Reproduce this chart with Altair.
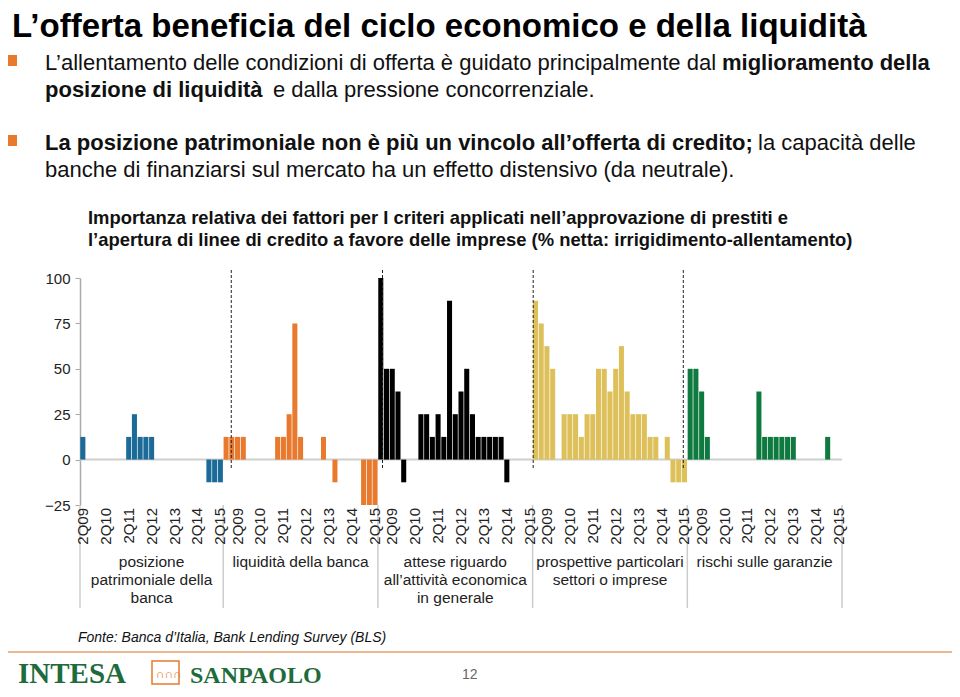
import altair as alt
import pandas as pd

# ---------------- data ----------------
gruppi = [
    "posizione\npatrimoniale della\nbanca",
    "liquidità della banca",
    "attese riguardo\nall’attività economica\nin generale",
    "prospettive particolari\nsettori o imprese",
    "rischi sulle garanzie",
]
colori = ["#1B6A97", "#E8792D", "#000000", "#DDC05A", "#0E7A3F"]
anni = ["2Q09", "2Q10", "2Q11", "2Q12", "2Q13", "2Q14", "2Q15"]

# % netta per trimestre (blu: 2Q09-2Q15; altri: 4Q08-2Q15)
posizione_patrimoniale = [12.5, 0, 0, 0, 0, 0, 0, 0, 12.5, 25, 12.5, 12.5, 12.5,
                          0, 0, 0, 0, 0, 0, 0, 0, 0, -12.5, -12.5, -12.5]
liquidita = [12.5, 12.5, 12.5, 12.5, 0, 0, 0, 0, 0, 12.5, 12.5, 25, 75, 12.5,
             0, 0, 0, 12.5, 0, -12.5, 0, 0, 0, 0, -25, -25, -25]
attese = [100, 50, 50, 37.5, -12.5, 0, 0, 25, 25, 12.5, 25, 12.5, 87.5, 25,
          37.5, 50, 25, 12.5, 12.5, 12.5, 12.5, 12.5, -12.5, 0, 0, 0, 0]
prospettive = [87.5, 75, 62.5, 50, 0, 25, 25, 25, 12.5, 25, 25, 50, 50, 37.5,
               50, 62.5, 37.5, 25, 25, 25, 12.5, 12.5, 0, 12.5, -12.5, -12.5, -12.5]
rischi = [50, 50, 37.5, 12.5, 0, 0, 0, 0, 0, 0, 0, 0, 37.5, 12.5, 12.5, 12.5,
          12.5, 12.5, 12.5, 0, 0, 0, 0, 0, 12.5, 0, 0]
serie = [posizione_patrimoniale, liquidita, attese, prospettive, rischi]
tratteggi = [26.4, 52.8, 79.1, 105.3]

# ---------------- tables ----------------
righe, etichette, confini, centri = [], [], [], []
start = 0
confini.append({"pos": 0})
for nome, valori in zip(gruppi, serie):
    n = len(valori)
    for i, v in enumerate(valori):
        righe.append({"gruppo": nome, "slot": start + i, "valore": v})
    primo = n - 25
    for k, a in enumerate(anni):
        etichette.append({"etichetta": a, "pos": start + primo + 4 * k + 0.5})
    centri.append({"gruppo": nome, "pos": start + n / 2})
    start += n
    confini.append({"pos": start})
totale = start

df = pd.DataFrame(righe)
df_et = pd.DataFrame(etichette)
df_conf = pd.DataFrame(confini)
df_centri = pd.DataFrame(centri)
df_tr = pd.DataFrame({"pos": tratteggi})

W, H = 762, 227
xscale = alt.Scale(domain=[0, totale], nice=False, zero=False)
yscale = alt.Scale(domain=[-25, 100], nice=False)
yaxis = alt.Axis(values=[-25, 0, 25, 50, 75, 100], title=None, grid=False,
                 labelFontSize=15, labelColor="#222", labelPadding=5,
                 tickSize=5, tickColor="#aaa", domainColor="#aaa",
                 domainWidth=1.5, labelFont="Liberation Sans")

zero = alt.Chart(pd.DataFrame({"zero": [0]})).mark_rule(
    color="#cfcfcf", strokeWidth=2
).encode(y=alt.Y("zero:Q", scale=yscale, axis=yaxis),
         x=alt.value(0), x2=alt.value(W))

barre = alt.Chart(df).transform_filter("datum.valore != 0").transform_calculate(
    x0="datum.slot + 0.06", x1="datum.slot + 0.94", base="0"
).mark_rect().encode(
    x=alt.X("x0:Q", scale=xscale, axis=None),
    x2="x1:Q",
    y=alt.Y("valore:Q", scale=yscale, axis=yaxis),
    y2="base:Q",
    color=alt.Color("gruppo:N", scale=alt.Scale(domain=gruppi, range=colori), legend=None),
)

linee = alt.Chart(df_tr).mark_rule(
    color="#222", strokeWidth=1, strokeDash=[3, 2]
).encode(x=alt.X("pos:Q", scale=xscale, axis=None), y=alt.value(-8), y2=alt.value(192))

tick_lab = alt.Chart(df_et).mark_text(
    angle=270, align="right", baseline="middle", fontSize=15,
    font="Liberation Sans", color="#222"
).encode(x=alt.X("pos:Q", scale=xscale, axis=None), y=alt.value(230), text="etichetta:N")

separatori = alt.Chart(df_conf).mark_rule(color="#cccccc", strokeWidth=1.5).encode(
    x=alt.X("pos:Q", scale=xscale, axis=None), y=alt.value(227), y2=alt.value(330))

nomi = alt.Chart(df_centri).mark_text(
    align="center", baseline="top", fontSize=15.5, lineBreak="\n", lineHeight=18,
    font="Liberation Sans", color="#222"
).encode(x=alt.X("pos:Q", scale=xscale, axis=None), y=alt.value(277), text="gruppo:N")


def testo(t, x, y, **kw):
    base = dict(align="left", baseline="middle", font="Liberation Sans", color="#111")
    base.update(kw)
    return alt.Chart(pd.DataFrame({"t": [t]})).mark_text(**base).encode(
        text="t:N", x=alt.value(x), y=alt.value(y))


testi = [
    testo("L’offerta beneficia del ciclo economico e della liquidità", -68, -251,
          fontSize=33, fontWeight="bold", color="#000"),
    testo("L’allentamento delle condizioni di offerta è guidato principalmente dal", -35, -215,
          fontSize=22),
    testo("miglioramento della", 642, -215, fontSize=22, fontWeight="bold"),
    testo("posizione di liquidità", -35, -188, fontSize=22, fontWeight="bold"),
    testo("e dalla pressione concorrenziale.", 193, -188, fontSize=22),
    testo("La posizione patrimoniale non è più un vincolo all’offerta di credito;", -35, -135,
          fontSize=22, fontWeight="bold"),
    testo("la capacità delle", 678, -135, fontSize=22),
    testo("banche di finanziarsi sul mercato ha un effetto distensivo (da neutrale).", -35, -108,
          fontSize=22),
    testo("Importanza relativa dei fattori per I criteri applicati nell’approvazione di prestiti e",
          8, -60, fontSize=18.4, fontWeight="bold"),
    testo("l’apertura di linee di credito a favore delle imprese (% netta: irrigidimento-allentamento)",
          8, -38, fontSize=18.4, fontWeight="bold"),
    testo("Fonte: Banca d’Italia, Bank Lending Survey (BLS)", -2, 360,
          fontSize=14, fontStyle="italic"),
    testo("12", 382, 397, fontSize=14, color="#666"),
    testo("INTESA", -62, 405, fontSize=29, fontWeight="bold", font="Liberation Serif",
          color="#1E6B3C", baseline="alphabetic"),
    testo("SANPAOLO", 110, 405, fontSize=24, fontWeight="bold", font="Liberation Serif",
          color="#1E6B3C", baseline="alphabetic"),
    testo("∩∩∩", 76, 396, fontSize=12, color="#E8792D"),
]

quadrati = [
    alt.Chart(pd.DataFrame({"k": [1]})).mark_rect(color="#E8792D").encode(
        x=alt.value(-72), x2=alt.value(-63), y=alt.value(-223), y2=alt.value(-212)),
    alt.Chart(pd.DataFrame({"k": [1]})).mark_rect(color="#E8792D").encode(
        x=alt.value(-72), x2=alt.value(-63), y=alt.value(-143), y2=alt.value(-132)),
    alt.Chart(pd.DataFrame({"k": [1]})).mark_rect(
        fill=None, stroke="#E8792D", strokeWidth=1.5).encode(
        x=alt.value(72), x2=alt.value(99), y=alt.value(383), y2=alt.value(406)),
    alt.Chart(pd.DataFrame({"k": [1]})).mark_rule(color="#E9A06A", strokeWidth=1.5).encode(
        x=alt.value(-80), x2=alt.value(880), y=alt.value(374)),
]

chart = alt.layer(zero, barre, linee, separatori, tick_lab, nomi, *testi, *quadrati).properties(
    width=W, height=H,
    autosize=alt.AutoSizeParams(type="none"),
    padding={"left": 72, "top": 270, "right": 110, "bottom": 184},
    background="white",
).configure_view(stroke=None)

chart.save("out.html", embed_options={"renderer": "svg", "actions": False})
